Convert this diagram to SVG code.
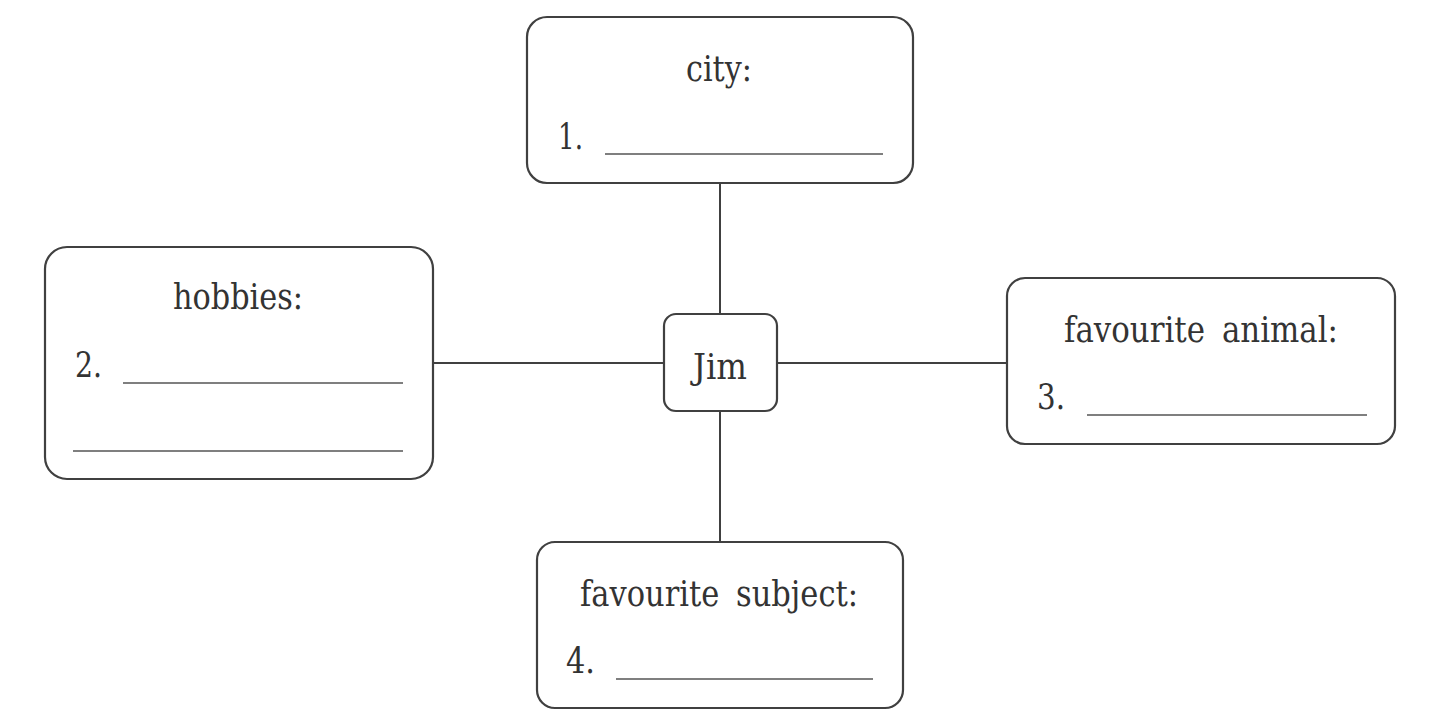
<svg xmlns="http://www.w3.org/2000/svg" width="1445" height="726" viewBox="0 0 1445 726">
<style>
.box{fill:#fff;stroke:#404040;stroke-width:2.2}
.t{font-family:'DejaVu Serif','Liberation Serif',serif;font-size:35px;fill:#333}
.u{stroke:#555;stroke-width:1.6}
.con{stroke:#404040;stroke-width:2;fill:none}
</style>
<rect width="1445" height="726" fill="#fff"/>
<g id="connectors">
<line class="con" x1="720" y1="183" x2="720" y2="314"/>
<line class="con" x1="720" y1="411" x2="720" y2="542"/>
<line class="con" x1="433" y1="363" x2="664" y2="363"/>
<line class="con" x1="777" y1="363" x2="1007" y2="363"/>
</g>
<g id="city">
<rect class="box" x="527" y="17" width="386" height="166" rx="20"/>
<text class="t" x="686" y="81" textLength="66" lengthAdjust="spacingAndGlyphs">city:</text>
<text class="t" x="558" y="149" textLength="25" lengthAdjust="spacingAndGlyphs">1.</text>
<line class="u" x1="605" y1="154" x2="883" y2="154"/>
</g>
<g id="hobbies">
<rect class="box" x="45" y="247" width="388" height="232" rx="22"/>
<text class="t" x="173" y="309" textLength="130" lengthAdjust="spacingAndGlyphs">hobbies:</text>
<text class="t" x="75" y="377" textLength="27" lengthAdjust="spacingAndGlyphs">2.</text>
<line class="u" x1="123" y1="383" x2="403" y2="383"/>
<line class="u" x1="73" y1="451" x2="403" y2="451"/>
</g>
<g id="jim">
<rect class="box" x="664" y="314" width="113" height="97" rx="12"/>
<text class="t" x="693" y="379" textLength="54" lengthAdjust="spacingAndGlyphs">Jim</text>
</g>
<g id="animal">
<rect class="box" x="1007" y="278" width="388" height="166" rx="18"/>
<text class="t" x="1064" y="342" textLength="274" lengthAdjust="spacingAndGlyphs" word-spacing="8">favourite animal:</text>
<text class="t" x="1037" y="409" textLength="28" lengthAdjust="spacingAndGlyphs">3.</text>
<line class="u" x1="1087" y1="415" x2="1367" y2="415"/>
</g>
<g id="subject">
<rect class="box" x="537" y="542" width="366" height="166" rx="18"/>
<text class="t" x="580" y="606" textLength="278" lengthAdjust="spacingAndGlyphs" word-spacing="8">favourite subject:</text>
<text class="t" x="566" y="673" textLength="29" lengthAdjust="spacingAndGlyphs">4.</text>
<line class="u" x1="616" y1="679" x2="873" y2="679"/>
</g>
</svg>
